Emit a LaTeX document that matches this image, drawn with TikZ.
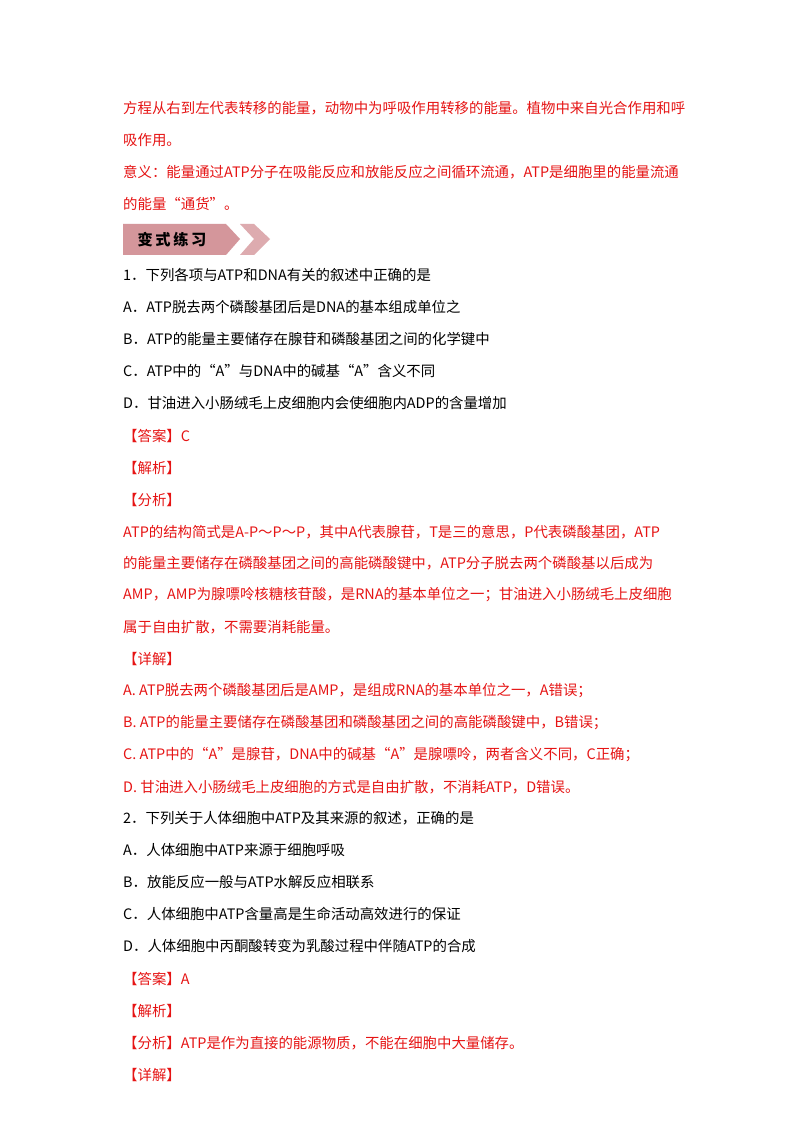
\documentclass[tikz,border=0pt]{standalone}
\usepackage{fontspec}
\setmainfont{Noto Sans CJK SC}
\definecolor{ansred}{RGB}{230,20,20}
\definecolor{bannerpink}{RGB}{212,150,155}
\newcommand{\txt}[4] % name, y in px, style, text
{
	\node[line,#3] (#1) at (123,#2) {#4};
}
\begin{document}
\begin{tikzpicture}[x=0.03cm,y=-0.03cm,
	line/.style={anchor=west,inner sep=0pt,font=\fontsize{12.3}{15}\selectfont},
	red/.style={text=ansred},
	blk/.style={text=black}]
	\useasboundingbox[fill=white] (0,0) rectangle (800,1132);
	% top paragraph
	\txt{t1}{108}{red}{方程从右到左代表转移的能量，动物中为呼吸作用转移的能量。植物中来自光合作用和呼}
	\txt{t2}{140}{red}{吸作用。}
	\txt{t3}{172}{red}{意义：能量通过ATP分子在吸能反应和放能反应之间循环流通，ATP是细胞里的能量流通}
	\txt{t4}{204}{red}{的能量“通货”。}
	% banner
	\fill[bannerpink] (123,224) -- (226,224) -- (240,239) -- (226,255) -- (123,255) -- cycle;
	\fill[bannerpink!80] (240,224) -- (254,224) -- (270,239) -- (254,255) -- (240,255) -- (254,239) -- cycle;
	\node[font=\fontsize{13}{15}\selectfont\bfseries] (banner) at (172,240) {变\,式\,练\,习};
	% question 1
	\txt{q1}{275}{blk}{1．下列各项与ATP和DNA有关的叙述中正确的是}
	\txt{q1a}{307}{blk}{A．ATP脱去两个磷酸基团后是DNA的基本组成单位之}
	\txt{q1b}{339}{blk}{B．ATP的能量主要储存在腺苷和磷酸基团之间的化学键中}
	\txt{q1c}{371}{blk}{C．ATP中的“A”与DNA中的碱基“A”含义不同}
	\txt{q1d}{403}{blk}{D．甘油进入小肠绒毛上皮细胞内会使细胞内ADP的含量增加}
	\txt{k1}{436}{red}{【答案】C}
	\txt{j1}{468}{red}{【解析】}
	\txt{f1}{500}{red}{【分析】}
	\txt{f1a}{532}{red}{ATP的结构简式是A-P～P～P，其中A代表腺苷，T是三的意思，P代表磷酸基团，ATP}
	\txt{f1b}{563}{red}{的能量主要储存在磷酸基团之间的高能磷酸键中，ATP分子脱去两个磷酸基以后成为}
	\txt{f1c}{595}{red}{AMP，AMP为腺嘌呤核糖核苷酸，是RNA的基本单位之一；甘油进入小肠绒毛上皮细胞}
	\txt{f1d}{627}{red}{属于自由扩散，不需要消耗能量。}
	\txt{x1}{659}{red}{【详解】}
	\txt{x1a}{691}{red}{A. ATP脱去两个磷酸基团后是AMP，是组成RNA的基本单位之一，A错误；}
	\txt{x1b}{723}{red}{B. ATP的能量主要储存在磷酸基团和磷酸基团之间的高能磷酸键中，B错误；}
	\txt{x1c}{755}{red}{C. ATP中的“A”是腺苷，DNA中的碱基“A”是腺嘌呤，两者含义不同，C正确；}
	\txt{x1d}{787}{red}{D. 甘油进入小肠绒毛上皮细胞的方式是自由扩散，不消耗ATP，D错误。}
	% question 2
	\txt{q2}{818}{blk}{2．下列关于人体细胞中ATP及其来源的叙述，正确的是}
	\txt{q2a}{850}{blk}{A．人体细胞中ATP来源于细胞呼吸}
	\txt{q2b}{882}{blk}{B．放能反应一般与ATP水解反应相联系}
	\txt{q2c}{914}{blk}{C．人体细胞中ATP含量高是生命活动高效进行的保证}
	\txt{q2d}{946}{blk}{D．人体细胞中丙酮酸转变为乳酸过程中伴随ATP的合成}
	\txt{k2}{979}{red}{【答案】A}
	\txt{j2}{1011}{red}{【解析】}
	\txt{f2}{1043}{red}{【分析】ATP是作为直接的能源物质，不能在细胞中大量储存。}
	\txt{x2}{1075}{red}{【详解】}
\end{tikzpicture}
\end{document}
